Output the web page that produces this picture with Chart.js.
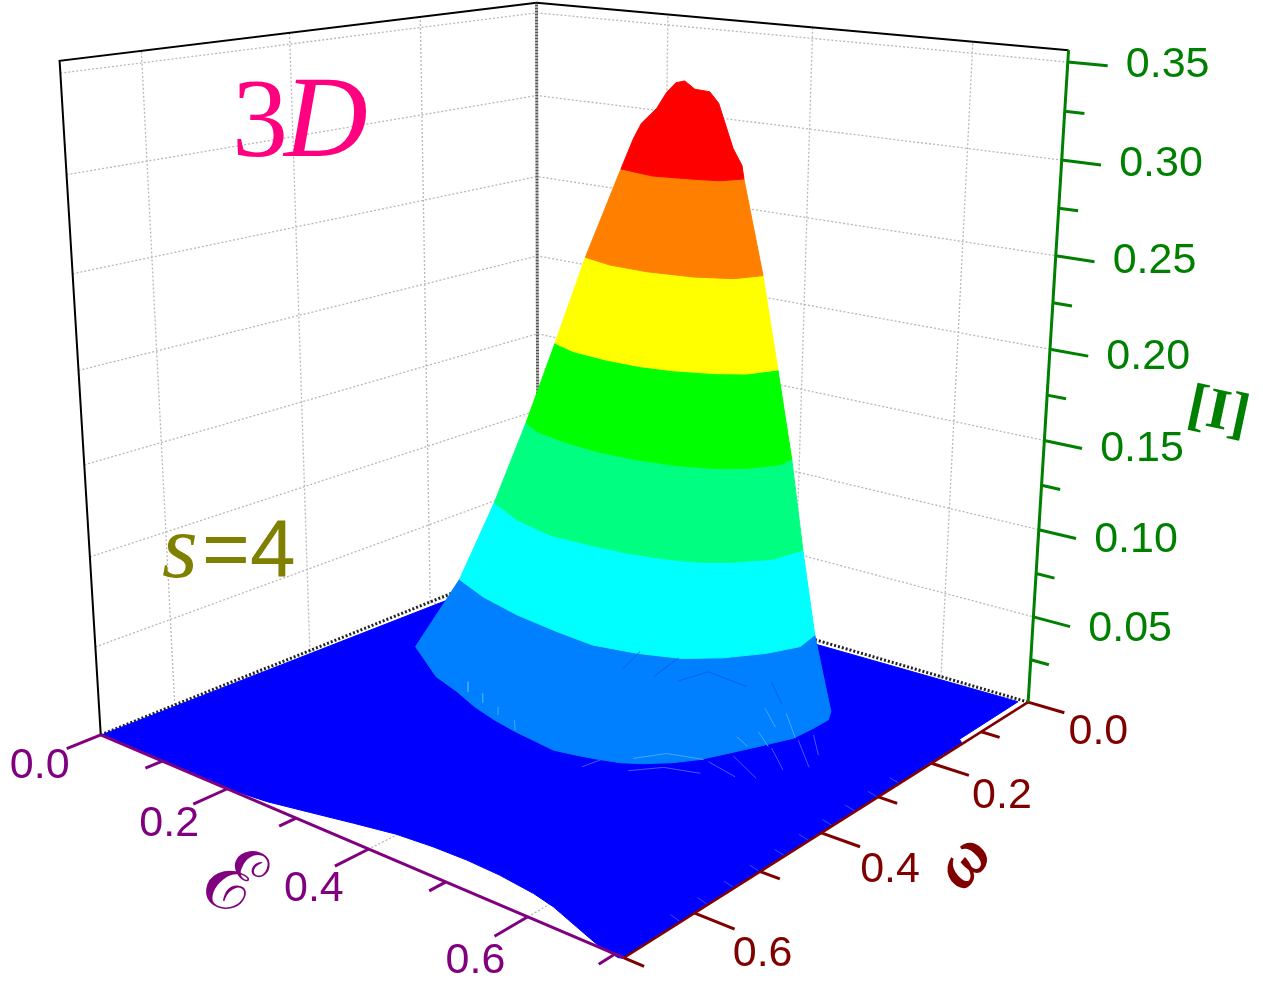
<!DOCTYPE html>
<html>
<head>
<meta charset="utf-8">
<title>s=4 3D</title>
<script src="https://cdn.jsdelivr.net/npm/chart.js@4"></script>
<style>
body { margin: 0; background: #fff; }
canvas { display: block; }
</style>
</head>
<body>
<canvas id="chart" width="1263" height="982"></canvas>
<script>
// axis ticks
const epsilonMajor = [0.0, 0.2, 0.4, 0.6];
const epsilonMinor = [0.1, 0.3, 0.5, 0.7];
const omegaMajor = [0.0, 0.2, 0.4, 0.6];
const omegaMinor = [0.1, 0.3, 0.5, 0.7];
const intensityMajor = [0.05, 0.10, 0.15, 0.20, 0.25, 0.30, 0.35];
const intensityMinor = [0.025, 0.075, 0.125, 0.175, 0.225, 0.275, 0.325];
const epsilonLabels = ['0.0', '0.2', '0.4', '0.6'];
const omegaLabels = ['0.0', '0.2', '0.4', '0.6'];
const intensityLabels = ['0.05', '0.10', '0.15', '0.20', '0.25', '0.30', '0.35'];
const gridValues = [0.2, 0.4, 0.6];

const epsilonMax = 0.71;
const omegaMax = 0.7;
const intensityMax = 0.356;

// contour levels of the surface and the colour of the band above each one
const levels = [0.045, 0.09, 0.135, 0.18, 0.225, 0.27, 0.315];
const bandColors = ['#0080ff', '#00ffff', '#00ff80', '#00ff00', '#ffff00', '#ff8000', '#ff0000'];

// front half of each contour
const contourEpsilon = [
    [0.239, 0.311, 0.353, 0.392, 0.429, 0.462, 0.489, 0.517, 0.540, 0.561, 0.583, 0.601, 0.621, 0.636, 0.647, 0.658, 0.667, 0.676, 0.678, 0.678, 0.669],
    [0.301, 0.353, 0.412, 0.471, 0.519, 0.564, 0.604, 0.633, 0.658, 0.673, 0.667],
    [0.342, 0.395, 0.449, 0.497, 0.538, 0.577, 0.606, 0.630, 0.654, 0.661],
    [0.379, 0.407, 0.449, 0.494, 0.539, 0.579, 0.610, 0.634, 0.651, 0.650],
    [0.422, 0.456, 0.500, 0.539, 0.571, 0.606, 0.630, 0.644],
    [0.459, 0.498, 0.542, 0.588, 0.620, 0.633],
    [0.503, 0.548, 0.589, 0.609, 0.620]
];
const contourOmega = [
    [0.469, 0.513, 0.527, 0.543, 0.554, 0.561, 0.565, 0.569, 0.564, 0.558, 0.550, 0.538, 0.518, 0.497, 0.472, 0.447, 0.425, 0.403, 0.372, 0.346, 0.328],
    [0.466, 0.487, 0.502, 0.510, 0.514, 0.503, 0.486, 0.460, 0.425, 0.391, 0.358],
    [0.457, 0.482, 0.495, 0.492, 0.487, 0.476, 0.463, 0.443, 0.412, 0.374],
    [0.450, 0.466, 0.475, 0.479, 0.475, 0.465, 0.450, 0.430, 0.402, 0.381],
    [0.456, 0.469, 0.473, 0.471, 0.463, 0.447, 0.429, 0.399],
    [0.455, 0.466, 0.466, 0.456, 0.438, 0.411],
    [0.457, 0.467, 0.455, 0.447, 0.426]
];

// crest of the peak
const peakIntensity = 0.35;
const peakEpsilon = [0.669, 0.626, 0.584, 0.531, 0.499, 0.498, 0.539, 0.559, 0.608, 0.759, 0.810];
const peakOmega = [0.646, 0.582, 0.508, 0.426, 0.371, 0.356, 0.394, 0.398, 0.450, 0.634, 0.692];

// outline of the blue floor
const floorEpsilon = [0.001, 0.199, 0.252, 0.302, 0.351, 0.399, 0.444, 0.486, 0.529, 0.576, 0.606, 0.645, 0.682, 0.706, 0.710, 0.708, 0.702, 0.701, 0.015];
const floorOmega = [0.698, 0.700, 0.694, 0.683, 0.672, 0.662, 0.658, 0.657, 0.659, 0.665, 0.672, 0.686, 0.699, 0.703, 0.701, 0.137, 0.131, 0.006, 0.019];

// thin mesh streaks, taken two by two (start, end)
const floorStreakEpsilon = [0.532, 0.574, 0.544, 0.592, 0.563, 0.602, 0.573, 0.619, 0.578, 0.610, 0.440, 0.449, 0.482, 0.505, 0.505, 0.542];
const floorStreakOmega = [0.343, 0.354, 0.316, 0.343, 0.275, 0.310, 0.241, 0.288, 0.220, 0.258, 0.435, 0.381, 0.412, 0.383, 0.383, 0.370];
const lightStreakEpsilon = [0.499, 0.536, 0.524, 0.568, 0.518, 0.542, 0.529, 0.558, 0.468, 0.487, 0.487, 0.525, 0.202, 0.221, 0.236, 0.253, 0.274, 0.288, 0.310, 0.328];
const lightStreakOmega = [0.197, 0.230, 0.193, 0.239, 0.275, 0.288, 0.251, 0.274, 0.386, 0.355, 0.355, 0.342, 0.349, 0.370, 0.363, 0.381, 0.379, 0.395, 0.393, 0.412];
const darkStreakEpsilon = [0.381, 0.391, 0.391, 0.449, 0.312, 0.295, 0.352, 0.341, 0.462, 0.506];
const darkStreakOmega = [0.198, 0.156, 0.156, 0.162, 0.213, 0.159, 0.206, 0.146, 0.133, 0.176];
const edgeStreakOmega = [0.62, 0.58, 0.54, 0.50, 0.46, 0.42, 0.38, 0.34, 0.30, 0.26];

// camera of the box, fitted to its ticks and corners
const camX = [333.22359, -455.575, -37.69795, 538.05872];
const camY = [36.46625, 43.02338, -555.90174, 558.55074];
const camW = [-0.15254, -0.18131, -0.06734, 1];

function project(e, w, z) {
    const u = e / epsilonMax, v = w / omegaMax, t = z / intensityMax;
    const d = camW[0] * u + camW[1] * v + camW[2] * t + camW[3];
    return {
        x: (camX[0] * u + camX[1] * v + camX[2] * t + camX[3]) / d,
        y: (camY[0] * u + camY[1] * v + camY[2] * t + camY[3]) / d
    };
}

const datasets = [];

function addLine(points, color, width, dash) {
    datasets.push({
        data: points,
        borderColor: color,
        borderWidth: width,
        borderDash: dash || [],
        pointRadius: 0,
        tension: 0,
        fill: false,
        clip: false,
        showLine: true
    });
}

function addShape(points, color) {
    datasets.push({
        data: points.concat([points[0]]),
        borderColor: color,
        backgroundColor: color,
        borderWidth: 1,
        pointRadius: 0,
        tension: 0,
        fill: 'shape',
        clip: false,
        showLine: true
    });
}

function addStreaks(epsilons, omegas, color) {
    for (let i = 0; i < epsilons.length; i += 2) {
        addLine([project(epsilons[i], omegas[i], 0), project(epsilons[i + 1], omegas[i + 1], 0)], color, 1);
    }
}

function contour(i) {
    return contourEpsilon[i].map((e, j) => project(e, contourOmega[i][j], levels[i]));
}

// grid on the two walls and the floor
const gridColor = '#b8b8b8';
const gridDash = [2, 2];
intensityMajor.forEach(z => {
    addLine([project(0, omegaMax, z), project(0, 0, z), project(epsilonMax, 0, z)], gridColor, 1.3, gridDash);
});
gridValues.forEach(v => {
    addLine([project(0, v, 0), project(0, v, intensityMax)], gridColor, 1.3, gridDash);
    addLine([project(v, 0, 0), project(v, 0, intensityMax)], gridColor, 1.3, gridDash);
    addLine([project(v, 0, 0), project(v, omegaMax, 0)], gridColor, 1.3, gridDash);
    addLine([project(0, v, 0), project(epsilonMax, v, 0)], gridColor, 1.3, gridDash);
});

// box edges
addLine([project(0, omegaMax, 0), project(0, omegaMax, intensityMax), project(0, 0, intensityMax), project(epsilonMax, 0, intensityMax)], '#000', 2);
addLine([project(0, 0, 0), project(0, 0, intensityMax)], '#555', 3, [2, 1]);
addLine([project(0, omegaMax, 0), project(0, 0, 0), project(epsilonMax, 0, 0)], '#222', 3, [2, 2]);

// floor, then the surface bands, lowest first
addShape(floorEpsilon.map((e, i) => project(e, floorOmega[i], 0)), '#0000ff');
addStreaks(floorStreakEpsilon, floorStreakOmega, '#4a5aff');
edgeStreakOmega.forEach(w => addLine([project(0.695, w - 0.004, 0), project(0.708, w, 0)], '#3a4aff', 1));
levels.forEach((z, i) => {
    const lower = contour(i);
    const upper = i < levels.length - 1
        ? contour(i + 1)
        : [lower[0]].concat(peakEpsilon.map((e, j) => project(e, peakOmega[j], peakIntensity)), [lower[lower.length - 1]]);
    addShape(lower.concat(upper.slice().reverse()), bandColors[i]);
});
addStreaks(lightStreakEpsilon, lightStreakOmega, '#4aa6ff');
addStreaks(darkStreakEpsilon, darkStreakOmega, '#0062e6');

// axes and ticks
const purple = '#800080', maroon = '#800000', green = '#008000';
const majorOut = 0.044, minorOut = 0.022;
const epsilonEnds = [], omegaEnds = [], intensityEnds = [];

addLine([project(0, omegaMax, 0), project(epsilonMax, omegaMax, 0)], purple, 3);
epsilonMajor.forEach(e => {
    const end = project(e, omegaMax + majorOut, 0);
    epsilonEnds.push(end);
    addLine([project(e, omegaMax, 0), end], purple, 3);
});
epsilonMinor.forEach(e => addLine([project(e, omegaMax, 0), project(e, omegaMax + minorOut, 0)], purple, 3));

addLine([project(epsilonMax, 0, 0), project(epsilonMax, omegaMax, 0)], maroon, 2.5);
omegaMajor.forEach(w => {
    const end = project(epsilonMax + majorOut, w, 0);
    omegaEnds.push(end);
    addLine([project(epsilonMax, w, 0), end], maroon, 3);
});
omegaMinor.forEach(w => addLine([project(epsilonMax, w, 0), project(epsilonMax + minorOut, w, 0)], maroon, 3));

addLine([project(epsilonMax, 0, 0), project(epsilonMax, 0, intensityMax)], green, 3);
intensityMajor.forEach(z => {
    const end = project(epsilonMax + majorOut, 0, z);
    intensityEnds.push(end);
    addLine([project(epsilonMax, 0, z), end], green, 3);
});
intensityMinor.forEach(z => addLine([project(epsilonMax, 0, z), project(epsilonMax + minorOut, 0, z)], green, 3));

// text offsets from the end of each tick
const epsilonShift = [[-27, 18], [-24, 20], [-21, 23], [-19, 25]];
const omegaShift = [[34, 19], [33, 21], [30, 23], [28, 25]];
const intensityShift = [[60, 3], [60, 2], [60, 0.5], [60, 1], [60, -0.5], [60, -0.5], [60, -1]];

const textPlugin = {
    id: 'text',
    afterDraw(chart) {
        const ctx = chart.ctx;
        ctx.save();
        ctx.textAlign = 'center';
        ctx.textBaseline = 'middle';
        ctx.font = '43px "Liberation Sans"';

        ctx.fillStyle = purple;
        epsilonLabels.forEach((s, i) => ctx.fillText(s, epsilonEnds[i].x + epsilonShift[i][0], epsilonEnds[i].y + epsilonShift[i][1]));
        ctx.fillStyle = maroon;
        omegaLabels.forEach((s, i) => ctx.fillText(s, omegaEnds[i].x + omegaShift[i][0], omegaEnds[i].y + omegaShift[i][1]));
        ctx.fillStyle = green;
        intensityLabels.forEach((s, i) => ctx.fillText(s, intensityEnds[i].x + intensityShift[i][0], intensityEnds[i].y + intensityShift[i][1]));

        function rotated(text, x, y, deg, font, color) {
            ctx.save();
            ctx.translate(x, y);
            ctx.rotate(deg * Math.PI / 180);
            ctx.font = font;
            ctx.fillStyle = color;
            ctx.fillText(text, 0, 0);
            ctx.restore();
        }
        rotated('ℰ', 232, 887, 20, '90px "DejaVu Serif"', purple);
        rotated('ω', 965, 863, -50, 'italic bold 68px "Liberation Serif"', maroon);
        rotated('[I]', 1218, 413, 12, 'bold 58px "Liberation Serif"', green);

        ctx.textAlign = 'left';
        ctx.textBaseline = 'alphabetic';
        ctx.fillStyle = '#ff0080';
        ctx.font = '112px "Liberation Serif"';
        ctx.fillText('3', 232, 156);
        ctx.font = 'italic 116px "Liberation Serif"';
        ctx.fillText('D', 284, 156);
        ctx.fillStyle = '#808000';
        ctx.font = 'italic 92px "Liberation Serif"';
        ctx.fillText('s', 162, 577);
        ctx.font = '82px "Liberation Sans"';
        ctx.fillText('=4', 202, 577);
        ctx.restore();
    }
};

// the library paints the last dataset first, so hand them over top-most first
new Chart(document.getElementById('chart'), {
    type: 'scatter',
    data: { datasets: datasets.slice().reverse() },
    options: {
        responsive: false,
        animation: false,
        layout: { padding: 0 },
        plugins: { legend: { display: false }, tooltip: { enabled: false }, title: { display: false } },
        scales: {
            x: { type: 'linear', min: 0, max: 1263, display: false },
            y: { type: 'linear', min: 0, max: 982, reverse: true, display: false }
        }
    },
    plugins: [textPlugin]
});
</script>
</body>
</html>
